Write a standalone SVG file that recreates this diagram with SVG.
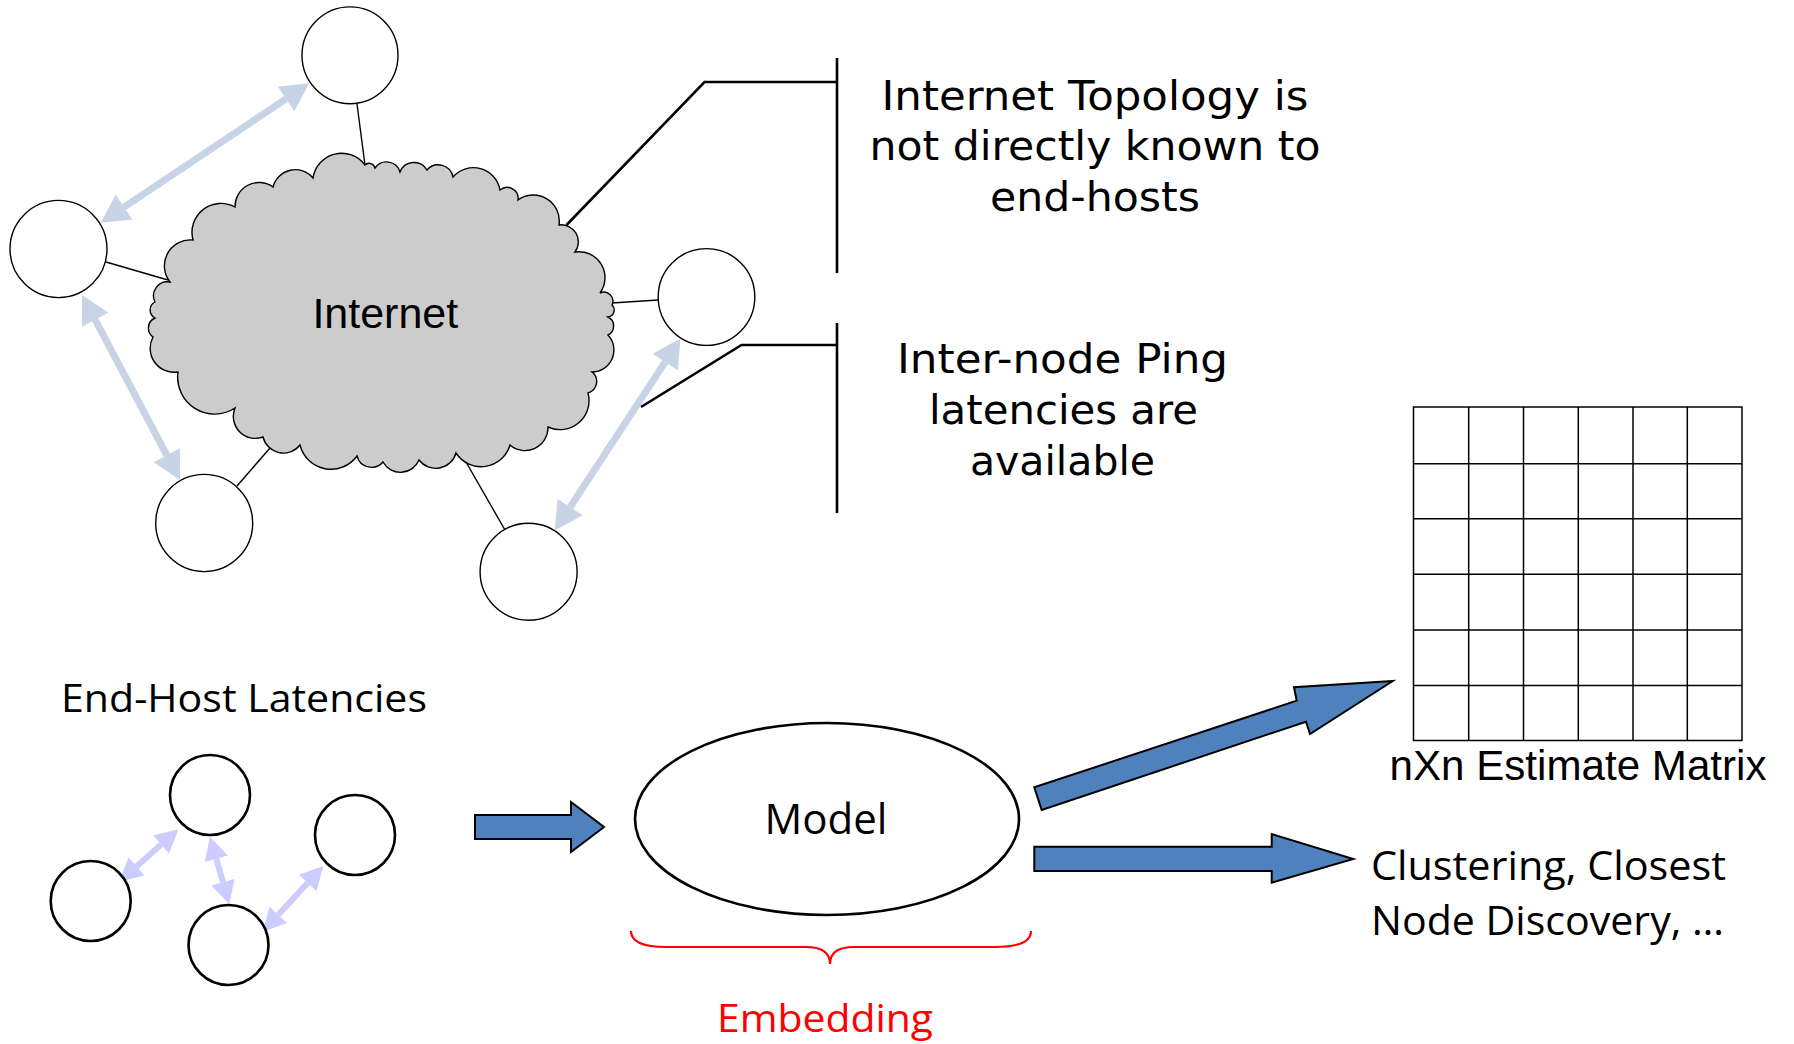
<svg xmlns="http://www.w3.org/2000/svg" width="1794" height="1044" viewBox="0 0 1794 1044">
<style>
.node{fill:#fff;stroke:#000;stroke-width:1.4}
.snode{fill:#fff;stroke:#000;stroke-width:2.6}
.thin{stroke:#000;stroke-width:1.4;fill:none}
.callout{stroke:#000;stroke-width:2.6;fill:none}
.lb{stroke:#c8d3e5;stroke-width:7;fill:none}
.lv{stroke:#ccccff;stroke-width:6;fill:none}
.blue{fill:#4f81bd;stroke:#000;stroke-width:2}
.grid{stroke:#000;stroke-width:1.5;fill:none}
.tah{font-family:"DejaVu Sans",sans-serif;font-size:41px;fill:#000;text-anchor:middle}
.cal{font-family:"Open Sans",sans-serif;fill:#000}
.ari{font-family:"Liberation Sans",Arial,sans-serif;fill:#000}
</style>
<defs>
<marker id="hb" markerUnits="userSpaceOnUse" orient="auto-start-reverse" refX="0" refY="0" markerWidth="30" markerHeight="30" overflow="visible">
<path d="M0,-15 L28,0 L0,15 z" fill="#c8d3e5"/>
</marker>
<marker id="hv" markerUnits="userSpaceOnUse" orient="auto-start-reverse" refX="0" refY="0" markerWidth="30" markerHeight="30" overflow="visible">
<path d="M0,-12 L23,0 L0,12 z" fill="#ccccff"/>
</marker>
</defs>

<g id="connectors">
<line class="thin" x1="357" y1="104" x2="365" y2="165"/>
<line class="thin" x1="106" y1="262" x2="168" y2="280"/>
<line class="thin" x1="658" y1="300" x2="612" y2="303"/>
<line class="thin" x1="237" y1="486" x2="270" y2="448"/>
<line class="thin" x1="505" y1="530" x2="466" y2="462"/>
<line class="lb" x1="124" y1="207.1" x2="286" y2="98.9" marker-start="url(#hb)" marker-end="url(#hb)"/>
<line class="lb" x1="95.1" y1="319.7" x2="166.9" y2="455.3" marker-start="url(#hb)" marker-end="url(#hb)"/>
<line class="lb" x1="665.2" y1="362" x2="570.1" y2="507.1" marker-start="url(#hb)" marker-end="url(#hb)"/>
<polyline class="callout" points="566.5,225 704.5,82 837,82"/>
<line class="callout" x1="837" y1="58" x2="837" y2="273"/>
<polyline class="callout" points="641,407 741.5,345 837,345"/>
<line class="callout" x1="837" y1="323" x2="837" y2="513"/>
<line class="lv" x1="136.5" y1="866.4" x2="161.1" y2="844.6" marker-start="url(#hv)" marker-end="url(#hv)"/>
<line class="lv" x1="216.3" y1="858.8" x2="223" y2="882.2" marker-start="url(#hv)" marker-end="url(#hv)"/>
<line class="lv" x1="278.3" y1="914.8" x2="307.7" y2="882.9" marker-start="url(#hv)" marker-end="url(#hv)"/>
<polygon class="blue" points="475,815 571,815 571,802 604,827 571,852 571,839 475,839"/>
<polygon class="blue" points="1034.3,787.3 1296.7,700.7 1294,687.3 1392.7,681 1310,734 1306,721.7 1041.7,810"/>
<polygon class="blue" points="1034.3,846.7 1271.7,846.7 1271.7,834 1353.3,859 1271.7,882.7 1271.7,871 1034.3,871"/>
</g>

<g id="cloud">
<path fill="#cccccc" stroke="#000" stroke-width="1.4" d="M365,165 A6,6 0 0 1 375,168 A14,14 0 0 1 400,172 A15,15 0 0 1 427,170 A15,15 0 0 1 453,177 A27,27 0 0 1 500,190 A11,11 0 0 1 518,200 A26,26 0 0 1 559,225 A17,17 0 0 1 575,252 A26,26 0 0 1 600,293 A9,9 0 0 1 612,305 A7,7 0 0 1 608,317 A10,10 0 0 1 608,335 A22,22 0 0 1 592,372 A12,12 0 0 1 588,393 A29,29 0 0 1 548,427 A23,23 0 0 1 510,445 A30,30 0 0 1 456,453 A21,21 0 0 1 419,460 A20,20 0 0 1 383,462 A15,15 0 0 1 357,456 A32,32 0 0 1 300,445 A21,21 0 0 1 263,437 A22,22 0 0 1 235,408 A37,37 0 0 1 178,372 A24,24 0 0 1 153,337 A11,11 0 0 1 155,318 A9,9 0 0 1 155,302 A14,14 0 0 1 170,282 A26,26 0 0 1 193,240 A29,29 0 0 1 235,207 A24,24 0 0 1 273,187 A23,23 0 0 1 313,178 A29,29 0 0 1 365,165 Z"/>
<text class="ari" x="385.3" y="328" font-size="43" text-anchor="middle">Internet</text>
</g>

<g id="node-top"><ellipse class="node" cx="350" cy="55.3" rx="48" ry="48.4"/></g>
<g id="node-left"><ellipse class="node" cx="58.5" cy="249" rx="48.5" ry="48.6"/></g>
<g id="node-right"><ellipse class="node" cx="706.5" cy="297" rx="48.3" ry="48.4"/></g>
<g id="node-bottom-left"><ellipse class="node" cx="204.2" cy="523" rx="48.5" ry="48.6"/></g>
<g id="node-bottom-right"><ellipse class="node" cx="528.6" cy="571.7" rx="48.5" ry="48.5"/></g>

<g id="note-topology">
<text class="tah" x="1095" y="110" textLength="427" lengthAdjust="spacingAndGlyphs">Internet Topology is</text>
<text class="tah" x="1095" y="160" textLength="451" lengthAdjust="spacingAndGlyphs">not directly known to</text>
<text class="tah" x="1095" y="210.5" textLength="210" lengthAdjust="spacingAndGlyphs">end-hosts</text>
</g>
<g id="note-ping">
<text class="tah" x="1062.5" y="373" textLength="331" lengthAdjust="spacingAndGlyphs">Inter-node Ping</text>
<text class="tah" x="1063.5" y="424" textLength="269" lengthAdjust="spacingAndGlyphs">latencies are</text>
<text class="tah" x="1062.5" y="475" textLength="185" lengthAdjust="spacingAndGlyphs">available</text>
</g>

<g id="end-host-latencies">
<text class="cal" x="61" y="712" font-size="39" textLength="366" lengthAdjust="spacingAndGlyphs">End-Host Latencies</text>
<ellipse class="snode" cx="210" cy="795" rx="40" ry="40"/>
<ellipse class="snode" cx="355" cy="835" rx="40" ry="40"/>
<ellipse class="snode" cx="90.7" cy="901" rx="40" ry="40"/>
<ellipse class="snode" cx="228.5" cy="945" rx="40" ry="40"/>
</g>

<g id="model">
<ellipse cx="827" cy="819" rx="192" ry="96" fill="#fff" stroke="#000" stroke-width="2.6"/>
<text class="cal" x="826" y="834" font-size="42" text-anchor="middle">Model</text>
</g>

<g id="embedding">
<path d="M631,931 Q631,947 666,947 L806,947 Q830,947 830,964 Q830,947 854,947 L995,947 Q1031,947 1031,931" fill="none" stroke="#ff0000" stroke-width="2.2"/>
<text class="cal" x="825" y="1031.5" font-size="39" style="fill:#ff0000" text-anchor="middle" textLength="216" lengthAdjust="spacingAndGlyphs">Embedding</text>
</g>

<g id="matrix">
<rect class="grid" x="1413.5" y="407" width="328.5" height="333.5"/>
<path class="grid" d="M1468.7,407 V740.5 M1523.5,407 V740.5 M1578.3,407 V740.5 M1633,407 V740.5 M1687.3,407 V740.5"/>
<path class="grid" stroke-width="2" d="M1413.5,463.7 H1742 M1413.5,518.8 H1742 M1413.5,574.3 H1742 M1413.5,629.9 H1742 M1413.5,685.4 H1742"/>
<text class="ari" x="1578" y="779.5" font-size="42.5" text-anchor="middle" textLength="377" lengthAdjust="spacingAndGlyphs">nXn Estimate Matrix</text>
</g>

<g id="applications">
<text class="cal" x="1371" y="880" font-size="40" textLength="355" lengthAdjust="spacingAndGlyphs">Clustering, Closest</text>
<text class="cal" x="1371" y="935" font-size="40" textLength="353" lengthAdjust="spacingAndGlyphs">Node Discovery, …</text>
</g>
</svg>
